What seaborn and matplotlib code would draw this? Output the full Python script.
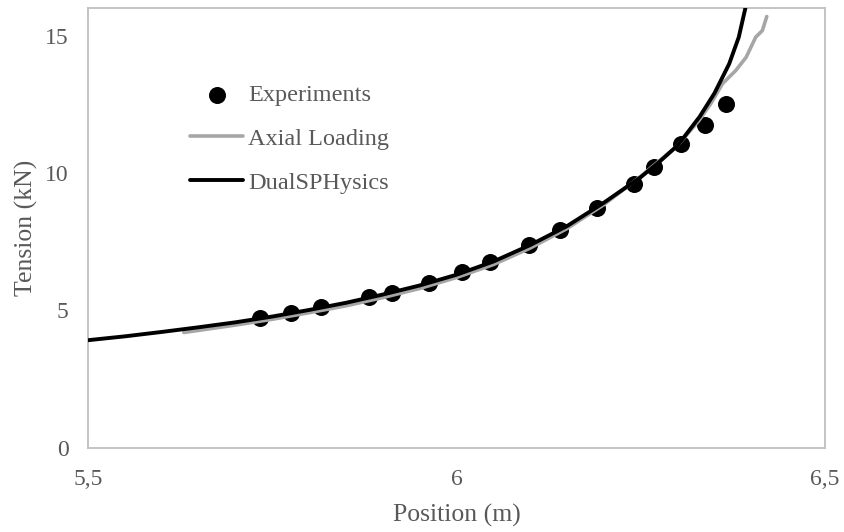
import matplotlib
matplotlib.use("Agg")
import matplotlib.pyplot as plt
import seaborn as sns
import pandas as pd
from matplotlib.ticker import FuncFormatter, FixedLocator

# Data
exp_x = [5.733, 5.776, 5.816, 5.881, 5.912, 5.963, 6.008, 6.046, 6.099, 6.141,
         6.190, 6.241, 6.268, 6.305, 6.337, 6.366]
exp_y = [4.73, 4.91, 5.13, 5.49, 5.64, 6.00, 6.40, 6.76, 7.37, 7.92,
         8.73, 9.61, 10.22, 11.04, 11.73, 12.52]

axial_x = [5.63, 5.70, 5.75, 5.80, 5.85, 5.90, 5.95, 6.00, 6.05, 6.10, 6.15,
           6.20, 6.25, 6.30, 6.329, 6.345, 6.361, 6.379, 6.393, 6.406, 6.415, 6.421]
axial_y = [4.20, 4.47, 4.68, 4.92, 5.17, 5.47, 5.80, 6.20, 6.67, 7.27, 7.98,
           8.85, 9.88, 11.00, 11.91, 12.52, 13.25, 13.73, 14.21, 14.94, 15.18, 15.69]

dual_x = [5.50, 5.55, 5.60, 5.65, 5.70, 5.75, 5.80, 5.85, 5.90, 5.95, 6.00,
          6.05, 6.10, 6.15, 6.20, 6.25, 6.275, 6.30, 6.33, 6.35, 6.37, 6.383, 6.392]
dual_y = [3.92, 4.06, 4.22, 4.39, 4.57, 4.78, 5.02, 5.28, 5.58, 5.91, 6.30,
          6.78, 7.38, 8.07, 8.92, 9.85, 10.40, 11.00, 12.05, 12.90, 13.97, 14.94, 16.00]

x_ticks = [5.5, 6.0, 6.5]
y_ticks = [0, 5, 10, 15]

sns.set_theme(style="white")
plt.rcParams['font.family'] = ['Liberation Serif', 'DejaVu Serif']

fig = plt.figure(figsize=(8.44, 5.32), dpi=100)
ax = fig.add_axes([88/844, 1-448/532, (825-88)/844, (448-8)/532])

grey_txt = "#595959"
spine_c = "#BFBFBF"

sns.scatterplot(x=exp_x, y=exp_y, ax=ax, color="black", s=150, edgecolor="black",
                linewidth=0, label="Experiments", zorder=2)
sns.lineplot(x=axial_x, y=axial_y, ax=ax, color="#A6A6A6", linewidth=2.6,
             label="Axial Loading", sort=False, zorder=3)
sns.lineplot(x=dual_x, y=dual_y, ax=ax, color="black", linewidth=2.8,
             label="DualSPHysics", sort=False, zorder=4)

ax.set_xlim(5.5, 6.5)
ax.set_ylim(0, 16)
ax.xaxis.set_major_locator(FixedLocator(x_ticks))
ax.yaxis.set_major_locator(FixedLocator(y_ticks))
fmt = FuncFormatter(lambda v, p: ("%g" % v).replace(".", ","))
ax.xaxis.set_major_formatter(fmt)
ax.yaxis.set_major_formatter(fmt)

for s in ax.spines.values():
    s.set_visible(True)
    s.set_color(spine_c)
    s.set_linewidth(1.3)

ax.tick_params(axis='both', direction='in', length=5, width=1, color=spine_c,
               labelsize=17, labelcolor=grey_txt)
ax.tick_params(axis='y', pad=14)
ax.tick_params(axis='x', pad=15)

ax.set_xlabel("Position (m)", fontsize=18.5, color=grey_txt, labelpad=10)
ax.set_ylabel("Tension (kN)", fontsize=18.5, color=grey_txt, labelpad=5)

leg = ax.legend(loc="upper left", bbox_to_anchor=((190-88)/737, (448-84)/440),
                frameon=False, fontsize=17.5, handlelength=2.2, handletextpad=0.2,
                labelspacing=0.9, borderaxespad=0, borderpad=0)
for t in leg.get_texts():
    t.set_color(grey_txt)

fig.savefig("out.png", dpi=100)
